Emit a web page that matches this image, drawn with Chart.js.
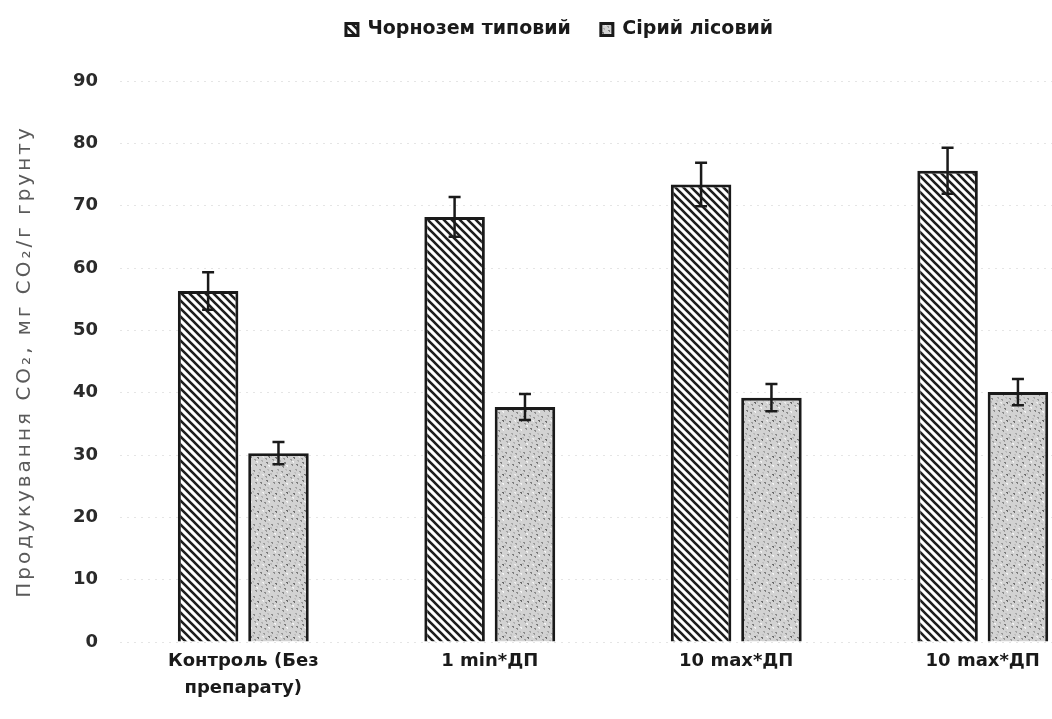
<!DOCTYPE html>
<html>
<head>
<meta charset="utf-8">
<script src="https://cdn.jsdelivr.net/npm/chart.js@4/dist/chart.umd.min.js"></script>
<style>
  html,body{margin:0;padding:0;background:#fff;overflow:hidden;width:1052px;height:719px;}
  #wrap{position:absolute;left:0;top:0;width:1106px;height:719px;}
</style>
</head>
<body>
<div id="wrap"><canvas id="c"></canvas></div>
<script>
const categories = [["Контроль (Без", "препарату)"], "1 min*ДП", "10 max*ДП", "10 max*ДП"];
const seriesNames = ["Чорнозем типовий", "Сірий лісовий"];
const chornozem = [56.3, 68.2, 73.4, 75.6];
const chornozemErr = [3.0, 3.2, 3.5, 3.7];
const siryi = [30.3, 37.7, 39.2, 40.1];
const siryiErr = [1.8, 2.1, 2.2, 2.1];
const yTicks = [0, 10, 20, 30, 40, 50, 60, 70, 80, 90];

const FONT = "'DejaVu Sans', Verdana, sans-serif";

function hatchPattern() {
  const s = 8;
  const cv = document.createElement('canvas');
  cv.width = s; cv.height = s;
  const g = cv.getContext('2d');
  g.fillStyle = '#ffffff'; g.fillRect(0, 0, s, s);
  g.strokeStyle = '#1e1e1e'; g.lineWidth = 2.6;
  g.beginPath();
  g.moveTo(-2, -2); g.lineTo(s + 2, s + 2);
  g.moveTo(-2, s - 2); g.lineTo(2, s + 2);
  g.moveTo(s - 2, -2); g.lineTo(s + 2, 2);
  g.stroke();
  return g.createPattern(cv, 'repeat');
}
function specklePattern() {
  const s = 18;
  const cv = document.createElement('canvas');
  cv.width = s; cv.height = s;
  const g = cv.getContext('2d');
  g.fillStyle = '#d2d2d2'; g.fillRect(0, 0, s, s);
  const dots = [[1,2,'#8a8a8a'],[5,7,'#6e6e6e'],[11,3,'#9a9a9a'],[14,12,'#7a7a7a'],[3,14,'#8e8e8e'],
                [9,10,'#b0b0b0'],[16,6,'#6a6a6a'],[7,1,'#a5a5a5'],[12,16,'#8a8a8a'],[2,9,'#a0a0a0'],
                [15,1,'#bcbcbc'],[8,14,'#7c7c7c'],[6,4,'#c0c0c0'],[13,8,'#9c9c9c'],[0,5,'#b8b8b8'],
                [4,11,'#f0f0f0'],[10,6,'#ececec'],[16,15,'#f2f2f2']];
  dots.forEach(([x, y, c]) => { g.fillStyle = c; g.fillRect(x, y, 2, 1); g.fillRect(x + 1, y + 1, 1, 1); });
  return g.createPattern(cv, 'repeat');
}

const errorBars = {
  id: 'errorBars',
  afterDatasetsDraw(chart) {
    const ctx = chart.ctx;
    const yScale = chart.scales.y;
    const errs = [chornozemErr, siryiErr];
    chart.data.datasets.forEach((ds, i) => {
      const meta = chart.getDatasetMeta(i);
      meta.data.forEach((el, j) => {
        const v = ds.data[j], e = errs[i][j];
        const yt = yScale.getPixelForValue(v + e);
        const yb = yScale.getPixelForValue(v - e);
        const x = el.x;
        ctx.save();
        ctx.strokeStyle = '#1a1a1a';
        ctx.lineWidth = 2.5;
        ctx.beginPath();
        ctx.moveTo(x, yt); ctx.lineTo(x, yb);
        ctx.moveTo(x - 6, yt); ctx.lineTo(x + 6, yt);
        ctx.moveTo(x - 6, yb); ctx.lineTo(x + 6, yb);
        ctx.stroke();
        ctx.restore();
      });
    });
  }
};

// wider letter spacing for the rotated y-axis title (style only)
const titleSpacing = {
  id: 'titleSpacing',
  beforeDraw(chart) {
    const sc = chart.scales.y;
    if (!sc._spacedTitle) {
      const orig = sc.drawTitle;
      sc.drawTitle = function () {
        const ctx = this.ctx;
        const prev = ctx.letterSpacing;
        ctx.letterSpacing = '3px';
        orig.call(this);
        ctx.letterSpacing = prev || '0px';
      };
      sc._spacedTitle = true;
    }
  }
};

// extra space below the legend
const legendMargin = {
  id: 'legendMargin',
  beforeInit(chart) {
    const origFit = chart.legend.fit;
    chart.legend.fit = function () {
      origFit.call(this);
      this.height += 32;
    };
  }
};

new Chart(document.getElementById('c'), {
  type: 'bar',
  data: {
    labels: categories,
    datasets: [
      { label: seriesNames[0], data: chornozem, backgroundColor: hatchPattern(), borderColor: '#1a1a1a', borderWidth: 3 },
      { label: seriesNames[1], data: siryi, backgroundColor: specklePattern(), borderColor: '#1a1a1a', borderWidth: 3 }
    ]
  },
  options: {
    responsive: true,
    maintainAspectRatio: false,
    devicePixelRatio: 1,
    animation: false,
    categoryPercentage: 0.571,
    barPercentage: 0.86,
    layout: { padding: { top: -10, bottom: 11, left: 13, right: 0 } },
    plugins: {
      legend: {
        position: 'top',
        labels: {
          boxWidth: 12, boxHeight: 12, padding: 30,
          color: '#1a1a1a',
          font: { family: FONT, size: 19, weight: 'bold' }
        }
      },
      tooltip: { enabled: false }
    },
    scales: {
      x: {
        grid: { display: false, drawTicks: false },
        border: { display: false },
        ticks: {
          color: '#1a1a1a', padding: 6,
          font: { family: FONT, size: 18, weight: 'bold', lineHeight: 1.5 },
          maxRotation: 0
        }
      },
      y: {
        min: 0, max: 90,
        afterBuildTicks: (axis) => { axis.ticks = yTicks.map(v => ({ value: v })); },
        grid: { color: 'rgba(0,0,0,0.10)', borderDash: [2, 5], drawTicks: false, lineWidth: 1 },
        border: { display: false, dash: [2, 5] },
        ticks: {
          color: '#2a2a2a', padding: 22,
          font: { family: FONT, size: 18, weight: 'bold' }
        },
        title: {
          display: true,
          text: 'Продукування CO₂, мг CO₂/г грунту',
          color: '#5a5a5a',
          padding: { top: 0, bottom: 14 },
          font: { family: FONT, size: 20 }
        }
      }
    }
  },
  plugins: [errorBars, titleSpacing, legendMargin]
});
</script>
</body>
</html>
